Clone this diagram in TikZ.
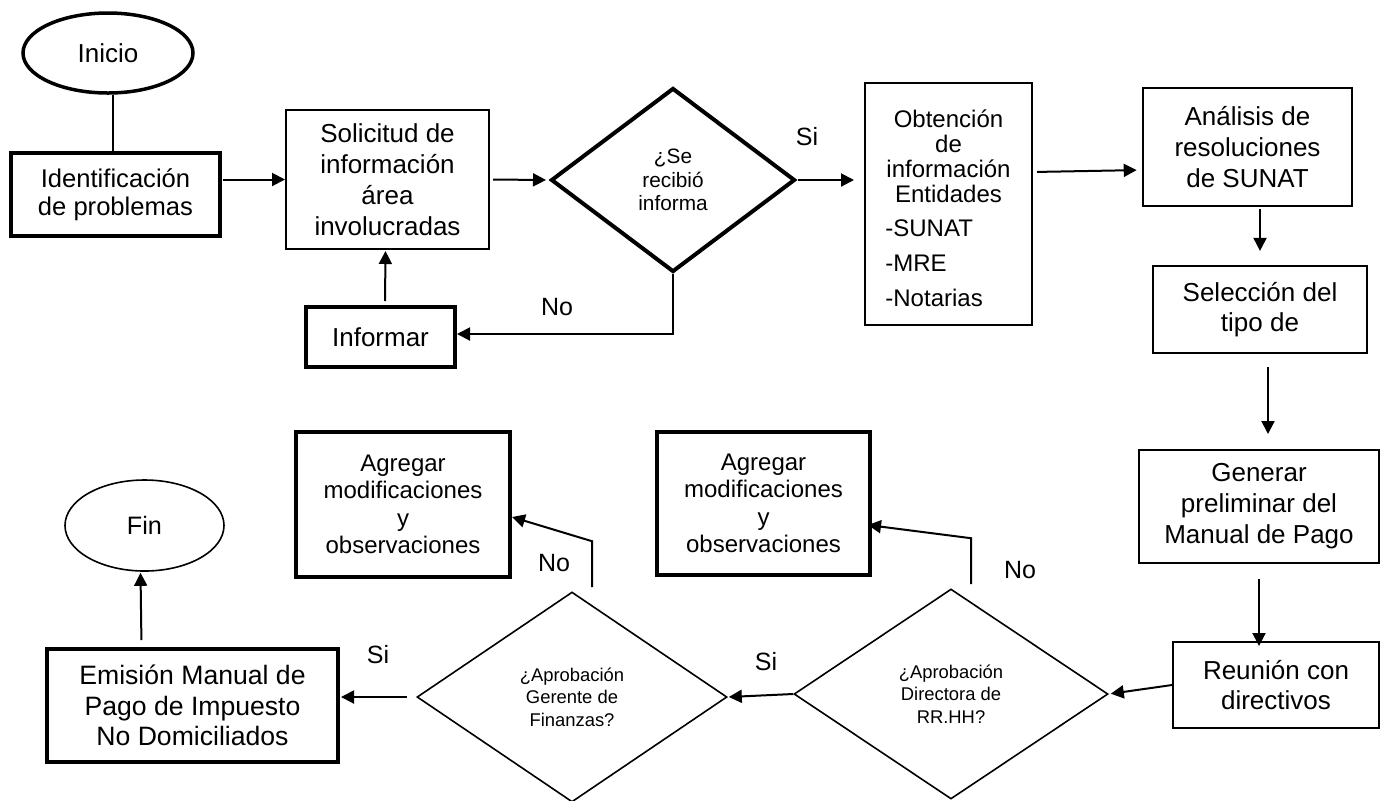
\documentclass[tikz,border=0pt]{standalone}
\usepackage{fontspec}
\setmainfont{Liberation Sans}
\usetikzlibrary{shapes.geometric,arrows.meta,calc}
\begin{document}
\begin{tikzpicture}[x=0.5pt,y=-0.5pt,
  arr/.style={-{Triangle[length=6.5pt,width=6.5pt]},line width=1pt},
  conn/.style={line width=1pt},
  box/.style={draw,rectangle,inner sep=0pt,align=center,font=\fontsize{13}{15.5}\selectfont},
  thickbox/.style={box,line width=2pt},
  thinbox/.style={box,line width=1pt},
  dec/.style={draw,diamond,inner sep=0pt,align=center,line width=0.8pt,font=\fontsize{9.2}{11.25}\selectfont},
  lbl/.style={font=\fontsize{12.5}{15}\selectfont,inner sep=0pt},
]
\fill[white] (0,0) rectangle (1380,800);
\useasboundingbox (0,0) rectangle (1380,800);

% top row
\node[draw,ellipse,line width=1.75pt,minimum width=85pt,minimum height=40pt,inner sep=0pt,font=\fontsize{13}{15}\selectfont] (inicio) at (108,53) {Inicio};
\node[thickbox,minimum width=104.5pt,minimum height=41.5pt,font=\fontsize{12.8}{14}\selectfont] (ident) at (115.5,194.5) {Identificación\\de problemas};
\node[thinbox,minimum width=101.5pt,minimum height=69.5pt] (solic) at (387.5,179.5) {Solicitud de\\información\\área\\involucradas};
\node[dec,line width=2pt,minimum width=122pt,minimum height=92pt,font=\fontsize{10.4}{11.75}\selectfont] (d1) at (673,180) {¿Se\\recibió\\informa};
\node[thickbox,minimum width=74.5pt,minimum height=30pt] (inform) at (380.5,337) {Informar};
\node[draw,rectangle,line width=1pt,minimum width=83.5pt,minimum height=121pt,inner sep=0pt] (obt) at (948.5,204) {};
\node[align=center,inner sep=0pt,font=\fontsize{12}{12.5}\selectfont] (obtA) at (948.5,156) {Obtención\\de\\información\\Entidades};
\node[align=left,anchor=west,inner sep=0pt,font=\fontsize{12}{17.5}\selectfont] (obtB) at (885,263) {-SUNAT\\-MRE\\-Notarias};
\node[box,line width=1.3pt,minimum width=104.5pt,minimum height=59pt] (anal) at (1247.5,147) {Análisis de\\resoluciones\\de SUNAT};
\node[box,line width=1.1pt,minimum width=107pt,minimum height=43.5pt,font=\fontsize{13}{15}\selectfont] (selec) at (1260,309.5) {Selección del\\tipo de};
\node[thinbox,minimum width=120pt,minimum height=56.5pt] (gener) at (1259,506.5) {Generar\\preliminar del\\Manual de Pago};
\node[thinbox,minimum width=103pt,minimum height=43pt,font=\fontsize{13}{15}\selectfont] (reun) at (1276,685) {Reunión con\\directivos};

% bottom row
\node[dec,minimum width=157pt,minimum height=105pt] (d2) at (951,694) {¿Aprobación\\Directora de\\RR.HH?};
\node[dec,minimum width=155pt,minimum height=105pt] (d3) at (572,697) {¿Aprobación\\Gerente de\\Finanzas?};
\node[thickbox,minimum width=106.5pt,minimum height=71.5pt,font=\fontsize{12}{13.7}\selectfont] (agr2) at (763.5,503.5) {Agregar\\modificaciones\\y\\observaciones};
\node[thickbox,minimum width=107pt,minimum height=72.5pt,font=\fontsize{12}{13.7}\selectfont] (agr1) at (403,504.5) {Agregar\\modificaciones\\y\\observaciones};
\node[thickbox,minimum width=145.5pt,minimum height=56.5pt,font=\fontsize{13.3}{15.25}\selectfont] (emis) at (192.5,705.5) {Emisión Manual de\\Pago de Impuesto\\No Domiciliados};
\node[draw,ellipse,line width=0.8pt,minimum width=79.5pt,minimum height=45.5pt,inner sep=0pt,font=\fontsize{12.6}{15}\selectfont] (fin) at (144.5,525.5) {Fin};

% labels
\node[lbl] (si1) at (807,137) {Si};
\node[lbl] (no1) at (557,307) {No};
\node[lbl] (no3) at (554,563) {No};
\node[lbl] (si3) at (378,655) {Si};
\node[lbl] (si2) at (766,662) {Si};
\node[lbl] (no2) at (1020,570) {No};

% connectors
\draw[conn,line width=0.7pt] ([xshift=2.5pt]inicio.south) -- ([xshift=-1.25pt]ident.north);
\draw[arr,shorten <=0.5pt] (solic.west -| ident.east) -- (solic.west);
\draw[arr,shorten <=1.5pt,shorten >=1.5pt] (solic.east) -- (d1.west);
\draw[arr,shorten <=0.5pt,shorten >=5pt] (d1.east) -- (d1.east -| obt.west);
\draw[arr] (d1.south) |- ([yshift=1.5pt]inform.east);
\draw[arr,shorten <=2pt,shorten >=0.5pt] ([xshift=2.25pt]inform.north) -- ([xshift=-1pt]solic.south);
\draw[arr,shorten <=2pt,shorten >=2.5pt] ([yshift=16pt]obt.east) -- ([yshift=-11.5pt]anal.west);
\draw[arr,shorten <=1pt,shorten >=7pt] (selec.north |- anal.south) -- (selec.north);
\draw[arr,shorten <=6.5pt,shorten >=7.5pt] ([xshift=4pt]selec.south) -- ([xshift=4.5pt]gener.north);
\draw[arr,shorten <=7.5pt,shorten >=-2.5pt] (gener.south) -- (gener.south |- reun.north);
\draw[arr,shorten >=1pt] (reun.west) -- (d2.east);
\draw[arr,shorten >=0.5pt] (d2.west) -- (d3.east);
\draw[arr,shorten <=4.5pt,shorten >=0.5pt] (d3.west) -- (d3.west -| emis.east);
\draw[arr,shorten <=3.5pt,shorten >=0.5pt] ([xshift=-1.5pt]fin.south |- emis.north) -- ([xshift=-2pt]fin.south);
\draw[arr] ([xshift=10pt,yshift=2pt]d3.north) -- ([xshift=10pt,yshift=25pt]d3.north) -- ([yshift=-6.25pt]agr1.east);
\draw[arr] ([xshift=10pt,yshift=2pt]d2.north) -- ([xshift=10pt,yshift=25pt]d2.north) -- ([xshift=-2pt,yshift=-10.75pt]agr2.east);
\end{tikzpicture}
\end{document}
